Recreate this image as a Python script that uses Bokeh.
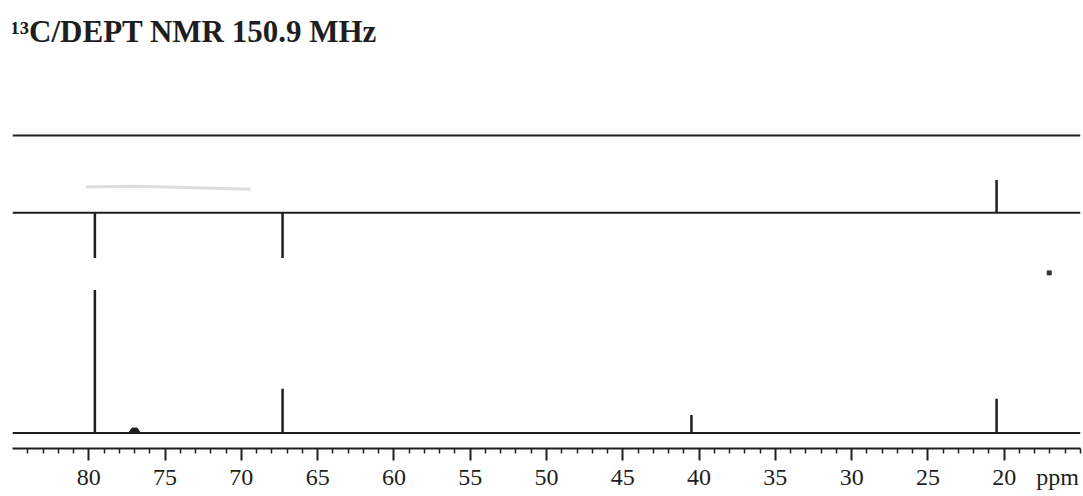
from bokeh.plotting import figure
from bokeh.models import Range1d, FixedTicker, Label, LinearAxis, CustomLabelingPolicy
from bokeh.embed import file_html
from bokeh.resources import INLINE

# ---------------- data ----------------
title_text = "¹³C/DEPT NMR 150.9 MHz"
unit_text = "ppm"
unit_pos = 16.5

x_start, x_end = 85.0, 15.0
major_ticks = [80, 75, 70, 65, 60, 55, 50, 45, 40, 35, 30, 25, 20]
minor_ticks = [84, 83, 82, 81, 79, 78, 77, 76, 74, 73, 72, 71, 69, 68, 67, 66,
               64, 63, 62, 61, 59, 58, 57, 56, 54, 53, 52, 51, 49, 48, 47, 46,
               44, 43, 42, 41, 39, 38, 37, 36, 34, 33, 32, 31, 29, 28, 27, 26,
               24, 23, 22, 21, 19, 18, 17, 16, 15]

# trace baselines (vertical offsets, intensity units)
offset_c13 = 0.0
offset_dept135 = 154.0
offset_dept90 = 208.0

# broadband 13C spectrum (bottom trace)
c13_ppm = [79.6, 67.3, 40.5, 20.5]
c13_int = [100.0, 31.0, 12.6, 24.0]
solvent_ppm = 77.0
solvent_int = 3.5
solvent_halfwidth = 0.4

# DEPT-135 (middle trace): CH/CH3 up, CH2 down
dept135_ppm = [79.6, 67.3, 20.5]
dept135_int = [-31.5, -31.5, 23.0]

# DEPT-90 (top trace): no signals
dept90_ppm = []
dept90_int = []

# scan artefacts visible in the picture
speck_ppm = [17.05]
speck_y = [112.0]
smudge_ppm = [80.2, 77.0, 73.0, 69.4]
smudge_y = [172.0, 172.6, 171.6, 170.5]

# ---------------- figure ----------------
ink = "#1e1e1e"
serif = "Liberation Serif"

p = figure(width=1083, height=496, output_backend="svg", toolbar_location=None,
           x_range=Range1d(x_start, x_end), y_range=Range1d(-10.8, 296.9),
           y_axis_location=None,
           min_border_left=12, min_border_right=3, min_border_top=8,
           min_border_bottom=48)
p.outline_line_color = None
p.grid.visible = False
p.background_fill_color = "white"
p.border_fill_color = "white"

# axis 1: line and tick marks only (its labels are carried by axis 2)
ax = p.xaxis[0]
ax.ticker = FixedTicker(ticks=major_ticks, minor_ticks=minor_ticks)
ax.axis_line_color = ink
ax.axis_line_width = 2
ax.major_tick_line_color = ink
ax.major_tick_line_width = 2
ax.minor_tick_line_color = ink
ax.minor_tick_line_width = 1.5
ax.major_tick_in = 0
ax.major_tick_out = 12
ax.minor_tick_in = 0
ax.minor_tick_out = 5
ax.major_label_standoff = 0
ax.major_label_text_font_size = "0px"
ax.major_label_policy = CustomLabelingPolicy(code="return new Set()")

# axis 2: tick labels and unit
ax2 = LinearAxis(ticker=FixedTicker(ticks=major_ticks + [unit_pos]),
                 major_label_overrides={unit_pos: unit_text},
                 axis_line_color=None, major_tick_line_color=None,
                 minor_tick_line_color=None, major_tick_out=0, major_tick_in=0,
                 minor_tick_out=0, minor_tick_in=0,
                 major_label_standoff=3,
                 major_label_text_font=serif,
                 major_label_text_font_size="24px",
                 major_label_text_color=ink)
p.add_layout(ax2, "below")

# baselines
for off in (offset_c13, offset_dept135, offset_dept90):
    p.segment(x0=[x_start], x1=[x_end], y0=[off], y1=[off],
              line_color=ink, line_width=2)

# peaks
def spikes(ppm, ints, off):
    if not ppm:
        return
    p.segment(x0=ppm, x1=ppm, y0=[off] * len(ppm),
              y1=[off + v for v in ints], line_color=ink, line_width=2.5,
              line_cap="butt")

spikes(c13_ppm, c13_int, offset_c13)
spikes(dept135_ppm, dept135_int, offset_dept135)
spikes(dept90_ppm, dept90_int, offset_dept90)

# solvent (CDCl3) bump
p.patch(x=[solvent_ppm + solvent_halfwidth, solvent_ppm + solvent_halfwidth * 0.4,
           solvent_ppm - solvent_halfwidth * 0.4, solvent_ppm - solvent_halfwidth],
        y=[offset_c13, offset_c13 + solvent_int, offset_c13 + solvent_int, offset_c13],
        fill_color=ink, line_color=ink, line_width=1)

# artefacts
p.line(x=smudge_ppm, y=smudge_y, line_color="#d4d4d4", line_width=3, line_alpha=0.8)
p.scatter(x=speck_ppm, y=speck_y, size=4, marker="square", color="#333333")

# title
p.add_layout(Label(x=x_start, y=281, text=title_text, x_offset=-2,
                   text_font=serif, text_font_style="bold",
                   text_font_size="31px", text_color=ink,
                   text_baseline="alphabetic", text_align="left"))

open("out.html", "w").write(file_html(p, INLINE))
